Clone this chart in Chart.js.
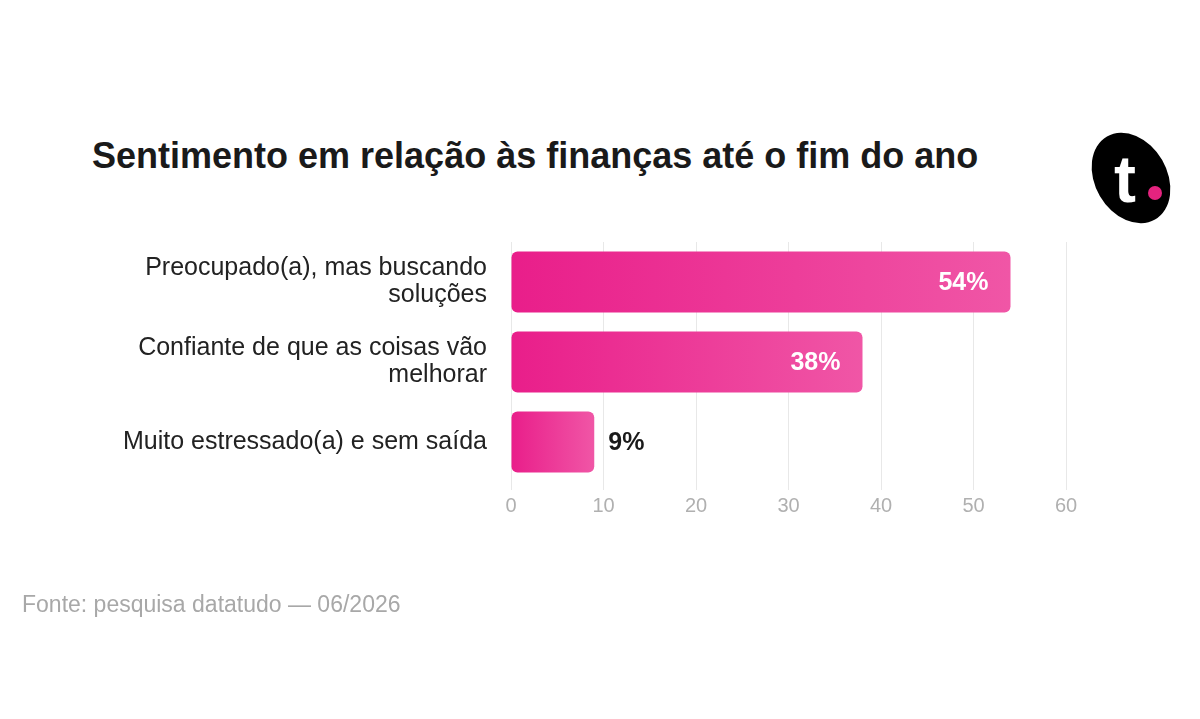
<!DOCTYPE html>
<html>
<head>
<meta charset="utf-8">
<script src="https://cdn.jsdelivr.net/npm/chart.js@4"></script>
<style>
  html, body { margin: 0; padding: 0; background: #fff; }
  body { width: 1200px; height: 719px; position: relative; overflow: hidden; font-family: "Liberation Sans", Arial, sans-serif; }
  #title { position: absolute; left: 92px; top: 135px; font-size: 36px; font-weight: bold; color: #1a1a1a; white-space: nowrap; }
  #source { position: absolute; left: 22px; top: 591px; font-size: 23px; color: #a8a8a8; white-space: nowrap; }
  #logo { position: absolute; left: 1095px; top: 130px; width: 72px; height: 96px; background: #000; border-radius: 50%; transform: rotate(-30deg); }
  #logo-t { position: absolute; left: 1114px; top: 146px; font-size: 66px; font-weight: bold; color: #fff; line-height: 1; }
  #logo-dot { position: absolute; left: 1148px; top: 186px; width: 14px; height: 14px; border-radius: 50%; background: #e5237f; }
  #wrap { position: absolute; left: 0; top: 0; width: 1200px; height: 719px; }
</style>
</head>
<body>
<div id="title">Sentimento em relação às finanças até o fim do ano</div>
<div id="logo"></div>
<div id="logo-t">t</div>
<div id="logo-dot"></div>
<div id="wrap"><canvas id="chart"></canvas></div>
<div id="source">Fonte: pesquisa datatudo — 06/2026</div>
<script>
const categories = [
  ['Preocupado(a), mas buscando', 'soluções'],
  ['Confiante de que as coisas vão', 'melhorar'],
  'Muito estressado(a) e sem saída'
];
const values = [54, 38, 9];
const xTicks = [0, 10, 20, 30, 40, 50, 60];

const barGradient = (ctx) => {
  const chart = ctx.chart;
  const x = chart.scales.x;
  if (!x || ctx.dataIndex === undefined) return '#ec2b8f';
  const x0 = x.getPixelForValue(0);
  const x1 = x.getPixelForValue(values[ctx.dataIndex]);
  if (!isFinite(x0) || !isFinite(x1)) return '#ec2b8f';
  const g = chart.ctx.createLinearGradient(x0, 0, x1, 0);
  g.addColorStop(0, '#e91e8a');
  g.addColorStop(1, '#f056a6');
  return g;
};

const valueLabels = {
  id: 'valueLabels',
  afterDatasetsDraw(chart) {
    const ctx = chart.ctx;
    const meta = chart.getDatasetMeta(0);
    ctx.save();
    ctx.font = 'bold 25px "Liberation Sans", Arial, sans-serif';
    ctx.textBaseline = 'middle';
    meta.data.forEach((bar, i) => {
      const v = values[i];
      const txt = v + '%';
      if (v > 20) {
        ctx.fillStyle = '#ffffff';
        ctx.textAlign = 'right';
        ctx.fillText(txt, bar.x - 22, bar.y + 1);
      } else {
        ctx.fillStyle = '#1a1a1a';
        ctx.textAlign = 'left';
        ctx.fillText(txt, bar.x + 14, bar.y + 1);
      }
    });
    ctx.restore();
  }
};

new Chart(document.getElementById('chart'), {
  type: 'bar',
  data: {
    labels: categories,
    datasets: [{
      data: values,
      backgroundColor: barGradient,
      borderRadius: 6,
      borderSkipped: false,
      categoryPercentage: 1,
      barPercentage: 0.76
    }]
  },
  options: {
    indexAxis: 'y',
    responsive: true,
    maintainAspectRatio: false,
    animation: false,
    layout: { padding: { top: 242, right: 134, bottom: 197, left: 0 } },
    scales: {
      x: {
        min: 0,
        max: 60,
        afterBuildTicks: (axis) => { axis.ticks = xTicks.map(v => ({ value: v })); },
        afterFit: (axis) => { axis.height = 40; },
        grid: { color: '#e8e8e8', lineWidth: 1, tickLength: 8, drawTicks: true },
        border: { display: false },
        ticks: {
          color: '#b0b0b0',
          padding: 4,
          font: { family: '"Liberation Sans", Arial, sans-serif', size: 20 }
        }
      },
      y: {
        afterFit: (axis) => { axis.width = 511; },
        grid: { display: false },
        border: { display: false },
        ticks: {
          color: '#222222',
          padding: 16,
          font: { family: '"Liberation Sans", Arial, sans-serif', size: 25, lineHeight: 1.08 }
        }
      }
    },
    plugins: {
      legend: { display: false },
      tooltip: { enabled: false }
    }
  },
  plugins: [valueLabels]
});
</script>
</body>
</html>
